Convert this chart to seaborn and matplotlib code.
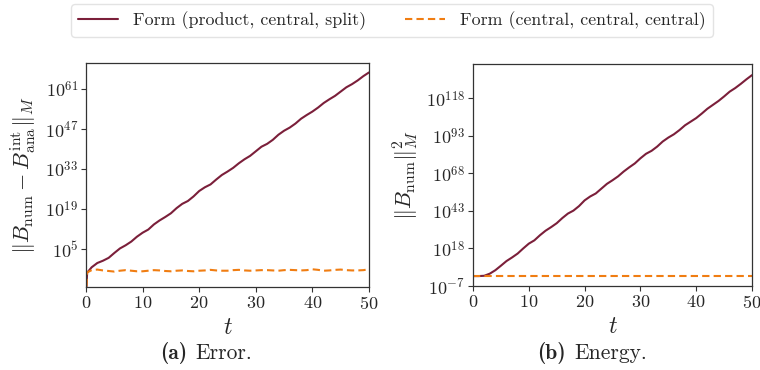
import numpy as np
import pandas as pd
import matplotlib
matplotlib.use("Agg")
import matplotlib.pyplot as plt
import seaborn as sns
from matplotlib.ticker import FixedLocator, NullLocator, FuncFormatter

# ---------------- data (log10 values) ----------------
t_err = [0, 0.2] + list(range(1, 51))
err_product = [-12, -3.3, -1.4, 0.1, 0.9, 1.9, 3.6, 5.2, 6.3, 7.6, 9.3, 10.7, 11.8, 13.6,
               15.0, 16.2, 17.5, 19.3, 20.8, 21.8, 23.4, 25.3, 26.6, 27.6, 29.3, 30.9,
               32.1, 33.4, 35.0, 36.4, 37.6, 39.2, 40.8, 41.8, 43.2, 45.0, 46.4, 47.5,
               48.9, 50.6, 51.9, 53.1, 54.5, 56.1, 57.4, 58.6, 60.1, 61.6, 62.7, 64.0,
               65.5, 66.8]
err_central = [-12, -3.2, -2.4, -2.2, -2.5, -2.7, -2.9, -2.6, -2.4, -2.6, -2.8, -2.8,
               -2.6, -2.4, -2.5, -2.7, -2.8, -2.6, -2.5, -2.7, -2.8, -2.6, -2.5, -2.3,
               -2.5, -2.6, -2.6, -2.4, -2.3, -2.5, -2.6, -2.5, -2.4, -2.4, -2.5, -2.6,
               -2.4, -2.3, -2.4, -2.5, -2.4, -2.1, -2.3, -2.6, -2.5, -2.3, -2.2, -2.4,
               -2.5, -2.5, -2.4, -2.1]

t_en = list(range(0, 51))
en_product = [-0.4, -0.4, -0.2, 1.2, 3.5, 6.5, 9.6, 12.0, 14.6, 18.0, 21.2, 23.4, 26.8,
              29.8, 32.2, 34.8, 38.2, 41.2, 43.2, 46.2, 50.0, 52.6, 54.6, 57.8, 61.0,
              63.4, 66.0, 69.2, 72.0, 74.6, 78.0, 81.0, 83.0, 85.8, 89.2, 91.8, 94.0,
              96.8, 100.0, 102.4, 104.8, 107.8, 111.0, 113.6, 116.2, 119.2, 122.4,
              124.8, 127.6, 130.6, 133.4]
en_central = [-0.4, -0.4, -0.4, -0.4, -0.4, -0.4, -0.4, -0.4, -0.4, -0.4, -0.4, -0.4,
              -0.4, -0.4, -0.4, -0.4, -0.4, -0.4, -0.4, -0.4, -0.4, -0.4, -0.4, -0.4,
              -0.4, -0.4, -0.4, -0.4, -0.4, -0.4, -0.4, -0.4, -0.4, -0.4, -0.4, -0.4,
              -0.4, -0.4, -0.4, -0.4, -0.4, -0.4, -0.4, -0.4, -0.4, -0.4, -0.4, -0.4,
              -0.4, -0.4, -0.4]

label_a = "Form (product, central, split)"
label_b = "Form (central, central, central)"
err_ticks = [5, 19, 33, 47, 61]
en_ticks = [-7, 18, 43, 68, 93, 118]

# ---------------- style ----------------
sns.set_theme(style="white")
plt.rcParams.update({
    "font.family": ["cmr10", "DejaVu Serif"],
    "mathtext.fontset": "cm",
    "axes.unicode_minus": False,
    "axes.formatter.use_mathtext": True,
})

c_red = "#7b1f3a"
c_orange = "#f07d12"

fig = plt.figure(figsize=(7.6, 3.7), dpi=100)
ax1 = fig.add_axes([86 / 760, 1 - 287 / 370, (369 - 86) / 760, (287 - 63) / 370])
ax2 = fig.add_axes([473 / 760, 1 - 286 / 370, (752 - 473) / 760, (286 - 64) / 370])

df_err = pd.DataFrame({
    "t": t_err + t_err,
    "v": [10.0 ** v for v in err_product] + [10.0 ** v for v in err_central],
    "form": [label_a] * len(t_err) + [label_b] * len(t_err),
})
df_en = pd.DataFrame({
    "t": t_en + t_en,
    "v": [10.0 ** v for v in en_product] + [10.0 ** v for v in en_central],
    "form": [label_a] * len(t_en) + [label_b] * len(t_en),
})

palette = {label_a: c_red, label_b: c_orange}
dashes = {label_a: "", label_b: (3.5, 2)}

for ax, df in ((ax1, df_err), (ax2, df_en)):
    sns.lineplot(data=df, x="t", y="v", hue="form", style="form", palette=palette,
                 dashes=dashes, linewidth=1.5, ax=ax, legend=(ax is ax1))
    ax.set_yscale("log")
    ax.set_xlim(0, 50)
    ax.set_xticks([0, 10, 20, 30, 40, 50])
    ax.set_xlabel("$t$", fontsize=17, labelpad=4)
    for sp in ax.spines.values():
        sp.set_color("#333333")
        sp.set_linewidth(0.9)
    ax.tick_params(axis="both", which="major", labelsize=13, length=3.5, width=0.8,
                   color="#333333", bottom=True, left=True, direction="out", pad=2)
    ax.yaxis.set_minor_locator(NullLocator())

fmt = FuncFormatter(lambda v, p: r"$10^{%d}$" % int(round(np.log10(v))))

ax1.set_ylim(10 ** -8.3, 10 ** 70.1)
ax1.yaxis.set_major_locator(FixedLocator([10.0 ** e for e in err_ticks]))
ax1.yaxis.set_major_formatter(fmt)
ax1.yaxis.set_minor_locator(NullLocator())
ax1.set_ylabel(r"$\|B_{\mathrm{num}} - B_{\mathrm{ana}}^{\mathrm{int}}\|_M$", fontsize=16, labelpad=4)

ax2.set_ylim(10 ** -7, 10 ** 140.8)
ax2.yaxis.set_major_locator(FixedLocator([10.0 ** e for e in en_ticks]))
ax2.yaxis.set_major_formatter(fmt)
ax2.yaxis.set_minor_locator(NullLocator())
ax2.set_ylabel(r"$\|B_{\mathrm{num}}\|_M^2$", fontsize=16, labelpad=4)

handles, labels = ax1.get_legend_handles_labels()
ax1.get_legend().remove()
fig.legend(handles, labels, loc="upper left", bbox_to_anchor=(71 / 760, 1 - 4 / 370), ncol=2,
           fontsize=12.9, frameon=True, fancybox=True, edgecolor="#dddddd",
           handlelength=2.2, handletextpad=0.85, columnspacing=2.2, borderpad=0.4,
           borderaxespad=0)

# captions: bold label + roman text
cap_y = 1 - 353 / 370
fig.text(187 / 760, cap_y, "(a)", family="cmb10", ha="right", va="center", fontsize=15.5)
fig.text(195 / 760, cap_y, "Error.", ha="left", va="center", fontsize=15.5)
fig.text(566 / 760, cap_y, "(b)", family="cmb10", ha="right", va="center", fontsize=15.5)
fig.text(574 / 760, cap_y, "Energy.", ha="left", va="center", fontsize=15.5)

fig.savefig("out.png", dpi=100)
